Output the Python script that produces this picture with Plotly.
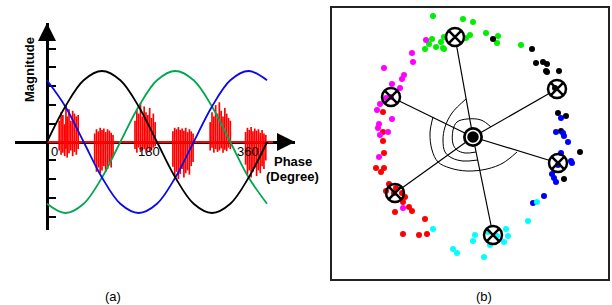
import plotly.graph_objects as go

W, H = 612, 305

# ---------------- Panel (a): phase-resolved pulses on three-phase voltages ----------------
phase_deg = [0, 30, 60, 90, 120, 150, 180, 210, 240, 270, 300, 330, 360]
wave_black = [0, 0.5, 0.87, 1, 0.87, 0.5, 0, -0.5, -0.87, -1, -0.87, -0.5, 0]
wave_green = [-0.87, -1, -0.87, -0.5, 0, 0.5, 0.87, 1, 0.87, 0.5, 0, -0.5, -0.87]
wave_blue = [0.87, 0.5, 0, -0.5, -0.87, -1, -0.87, -0.5, 0, 0.5, 0.87, 1, 0.87]

pulse_phase = [20, 23, 26, 29, 31, 33, 36, 39, 42, 45, 48, 51,
               78, 81, 84, 87, 90, 93, 96, 99, 102, 105, 108,
               144, 147, 150, 153, 156, 159, 162, 165, 168, 171, 174, 177,
               206, 209, 212, 215, 218, 221, 224, 227, 230, 233, 236, 239,
               267, 270, 273, 276, 279, 282, 285, 288, 291, 294, 297, 300,
               325, 328, 331, 334, 337, 340, 343, 346, 349, 352, 355, 358]
pulse_top = [0.30, 0.42, 0.38, 0.25, 0.52, 0.36, 0.46, 0.30, 0.44, 0.40, 0.36, 0.38,
             0.12, 0.18, 0.15, 0.20, 0.17, 0.19, 0.14, 0.18, 0.16, 0.13, 0.10,
             0.30, 0.45, 0.40, 0.55, 0.36, 0.50, 0.42, 0.38, 0.48, 0.34, 0.40, 0.28,
             0.15, 0.20, 0.18, 0.21, 0.17, 0.19, 0.16, 0.20, 0.14, 0.18, 0.15, 0.12,
             0.28, 0.42, 0.36, 0.52, 0.40, 0.56, 0.44, 0.36, 0.48, 0.40, 0.34, 0.30,
             0.14, 0.20, 0.17, 0.21, 0.15, 0.19, 0.16, 0.18, 0.13, 0.17, 0.12, 0.10]
pulse_bottom = [-0.12, -0.18, -0.15, -0.20, -0.10, -0.22, -0.16, -0.12, -0.20, -0.14, -0.18, -0.10,
                -0.30, -0.42, -0.36, -0.44, -0.40, -0.34, -0.42, -0.38, -0.30, -0.36, -0.22,
                -0.10, -0.15, -0.08, -0.14, -0.12, -0.10, -0.15, -0.09, -0.13, -0.11, -0.08, -0.06,
                -0.35, -0.48, -0.42, -0.52, -0.45, -0.38, -0.50, -0.44, -0.40, -0.46, -0.34, -0.28,
                -0.12, -0.08, -0.15, -0.10, -0.14, -0.12, -0.09, -0.15, -0.11, -0.13, -0.08, -0.10,
                -0.32, -0.46, -0.40, -0.50, -0.42, -0.36, -0.48, -0.40, -0.44, -0.34, -0.38, -0.26]
baseline_phase = [0, 370]

ytick_vals = [-1.05, -0.79, -0.52, -0.26, 0.26, 0.52, 0.79, 1.05, 1.31]
phase_labels = ["0", "180", "360"]
phase_label_pos = [13, 167, 329]

# ---------------- Panel (b): clustered features ----------------
pts_green = [(-40, 121), (-10, 118), (0, 115), (13, 104), (25, 101), (24, 94), (48, 92), (-3, 102),
             (-7, 99), (-41, 98), (-44, 93), (-48, 88), (-37, 90), (-32, 95), (-30, 89), (-29, 88), (-29, 100)]
pts_black = [(20, 98), (59, 88), (63, 74), (70, 75), (74, 73), (73, 66), (74, 65), (86, 66), (82, 49),
             (85, 24), (93, 21), (88, 6), (107, -15), (91, -42)]
pts_blue = [(88, 19), (83, 5), (90, 4), (91, 1), (95, -5), (88, -16), (98, -24), (99, -26), (85, -28),
            (79, -37), (81, -41), (83, -45), (71, -59), (60, -66)]
pts_cyan = [(64, -65), (55, -84), (33, -92), (35, -99), (31, -105), (17, -108), (2, -98), (0, -104),
            (11, -120), (-40, -92), (-20, -112), (-16, -116), (24, -99), (15, -95)]
pts_red = [(-90, -4), (-89, -16), (-97, -31), (-92, -35), (-89, -31), (-84, -47), (-87, -54), (-77, -51),
           (-71, -56), (-68, -60), (-70, -65), (-78, -75), (-64, -70), (-61, -74), (-48, -82), (-70, -97),
           (-54, -98), (-46, -97), (-90, 5), (-90, 25), (-79, -56)]
pts_magenta = [(-47, 97), (-61, 84), (-60, 75), (-89, 69), (-69, 62), (-71, 58), (-81, 53), (-73, 49),
               (-82, 40), (-93, 33), (-96, 27), (-81, 18), (-94, 13), (-95, 9), (-85, 5), (-93, 2),
               (-94, -20), (-70, -71), (-87, 39)]
cluster_names = ["green", "black", "blue", "cyan", "red", "magenta"]
cluster_x = [-18, 84, 85, 20, -78, -82]
cluster_y = [100, 48, -26, -98, -56, 40]
global_x = [0]
global_y = [0]

contour_outer = [(-40, 20), (-43, 4), (-41, -13), (-35, -25), (-23, -31), (-6, -34), (14, -32), (30, -26), (44, -15)]
contour_middle = [(-7, 38), (-21, 24), (-28, 10), (-30, -3), (-28, -15), (-21, -21), (-10, -24), (5, -23)]
contour_inner = [(18, 10), (8, 17), (-6, 18), (-16, 15), (-20, 7), (-20, -7), (-16, -13), (-8, -16), (3, -15)]

point_sets = [(pts_green, "#00ee00"), (pts_black, "#000000"), (pts_blue, "#0000ff"),
              (pts_cyan, "#00ffff"), (pts_red, "#ff0000"), (pts_magenta, "#ff00ff")]

FONT = "Liberation Sans, Arial, sans-serif"

fig = go.Figure()

# ---- panel (a) traces ----
fig.add_trace(go.Scatter(x=baseline_phase, y=[0, 0], mode="lines",
                         line=dict(color="#ff0000", width=2), xaxis="x", yaxis="y", hoverinfo="skip"))
px_, py_ = [], []
for p, t, b in zip(pulse_phase, pulse_top, pulse_bottom):
    px_ += [p, p, None]
    py_ += [b, t, None]
fig.add_trace(go.Scatter(x=px_, y=py_, mode="lines", line=dict(color="#ff0000", width=1.7),
                         xaxis="x", yaxis="y", hoverinfo="skip"))
for wave, col in [(wave_green, "#00a650"), (wave_blue, "#0a0ae6"), (wave_black, "#000000")]:
    fig.add_trace(go.Scatter(x=phase_deg, y=wave, mode="lines",
                             line=dict(color=col, width=1.8, shape="spline"),
                             xaxis="x", yaxis="y", hoverinfo="skip"))

# ---- panel (b) traces ----
for curve in [contour_outer, contour_middle, contour_inner]:
    fig.add_trace(go.Scatter(x=[c[0] for c in curve], y=[c[1] for c in curve], mode="lines",
                             line=dict(color="black", width=1, shape="spline"),
                             xaxis="x2", yaxis="y2", hoverinfo="skip"))
lx, ly = [], []
for cx, cy in zip(cluster_x, cluster_y):
    lx += [global_x[0], cx, None]
    ly += [global_y[0], cy, None]
fig.add_trace(go.Scatter(x=lx, y=ly, mode="lines", line=dict(color="black", width=1.2),
                         xaxis="x2", yaxis="y2", hoverinfo="skip"))
fig.add_trace(go.Scatter(x=cluster_x, y=cluster_y, mode="markers",
                         marker=dict(symbol="circle", size=18, color="white"),
                         xaxis="x2", yaxis="y2", hoverinfo="skip"))
for pts, col in point_sets:
    fig.add_trace(go.Scatter(x=[p[0] for p in pts], y=[p[1] for p in pts], mode="markers",
                             marker=dict(size=6, color=col),
                             xaxis="x2", yaxis="y2", hoverinfo="skip"))
fig.add_trace(go.Scatter(x=cluster_x, y=cluster_y, mode="markers",
                         marker=dict(symbol="circle-x-open", size=18, color="black",
                                     line=dict(width=2.5, color="black")),
                         xaxis="x2", yaxis="y2", hoverinfo="skip"))
fig.add_trace(go.Scatter(x=global_x, y=global_y, mode="markers",
                         marker=dict(symbol="circle", size=20, color="black"),
                         xaxis="x2", yaxis="y2", hoverinfo="skip"))
fig.add_trace(go.Scatter(x=global_x, y=global_y, mode="markers",
                         marker=dict(symbol="circle", size=13, color="black",
                                     line=dict(width=1.5, color="white")),
                         xaxis="x2", yaxis="y2", hoverinfo="skip"))

# ---- axes ----
x_left_px, x_right_px, x0_px = 15, 295, 47
y_top_px, y_bot_px, y0_px = 23, 230, 142
deg_per_px = 360 / 220
amp_px = 71
xr = [(x_left_px - x0_px) * deg_per_px, (x_right_px - x0_px) * deg_per_px]
yr = [(y0_px - y_bot_px) / amp_px, (y0_px - y_top_px) / amp_px]

fig.update_layout(
    width=W, height=H, margin=dict(l=0, r=0, t=0, b=0),
    paper_bgcolor="white", plot_bgcolor="rgba(0,0,0,0)", showlegend=False,
    font=dict(family=FONT, color="black", size=13),
    xaxis=dict(domain=[x_left_px / W, x_right_px / W], range=xr, anchor="free",
               position=(H - y0_px) / H, showline=True, linewidth=3, linecolor="black",
               layer="below traces", showticklabels=False, ticks="", showgrid=False, zeroline=False),
    yaxis=dict(domain=[(H - y_bot_px) / H, (H - y_top_px) / H], range=yr, anchor="free",
               position=x0_px / W, showline=True, linewidth=3, linecolor="black",
               layer="below traces", ticks="inside", ticklen=7, tickwidth=2, tickcolor="black",
               tickvals=ytick_vals, showticklabels=False, showgrid=False, zeroline=False),
    xaxis2=dict(domain=[332 / W, 608 / W], range=[-141, 135], anchor="y2", showline=True, mirror=True,
                linewidth=1.5, linecolor="#222222", showticklabels=False, ticks="", showgrid=False,
                zeroline=False),
    yaxis2=dict(domain=[26 / H, 297 / H], range=[-142, 129], anchor="x2", showline=True, mirror=True,
                linewidth=1.5, linecolor="#222222", showticklabels=False, ticks="", showgrid=False,
                zeroline=False),
)

ann = []
# arrowheads
ann.append(dict(x=0, y=yr[1], xref="x", yref="y", ax=0, ay=12, text="", showarrow=True,
                arrowhead=2, arrowsize=1.2, arrowwidth=3, arrowcolor="black"))
ann.append(dict(x=xr[1], y=0, xref="x", yref="y", ax=-12, ay=0, text="", showarrow=True,
                arrowhead=2, arrowsize=1.2, arrowwidth=3, arrowcolor="black"))
for lab, pos in zip(phase_labels, phase_label_pos):
    ann.append(dict(x=pos, y=-0.14, xref="x", yref="y", text=lab, showarrow=False,
                    xanchor="center", yanchor="middle", font=dict(size=13, family=FONT)))


def paper_text(text, xpx, ypx, angle=0):
    return dict(x=xpx / W, y=1 - ypx / H, xref="paper", yref="paper", text=text, textangle=angle,
                showarrow=False, xanchor="center", yanchor="middle", font=dict(size=13, family=FONT))


ann.append(paper_text("<b>Magnitude</b>", 29, 70, -90))
ann.append(paper_text("<b>Phase</b>", 293, 161))
ann.append(paper_text("<b>(Degree)</b>", 292.5, 176))
ann.append(paper_text("(a)", 113, 296))
ann.append(paper_text("(b)", 484, 296))
fig.update_layout(annotations=ann)

fig.write_html("out.html", config={"displayModeBar": False},
               post_script="document.body.style.margin='0';document.body.style.overflow='hidden';")
